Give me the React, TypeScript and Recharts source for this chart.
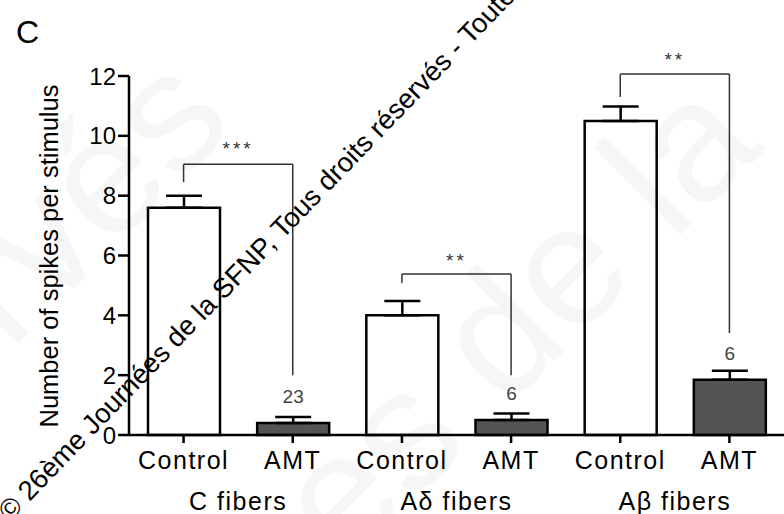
import {
  BarChart,
  Bar,
  XAxis,
  YAxis,
  ErrorBar,
  Cell,
  LabelList,
  ReferenceLine,
  ReferenceDot,
} from "recharts";

const FONT = "'Liberation Sans', Arial, sans-serif";

const groups = ["C fibers", "Aδ fibers", "Aβ fibers"];
const conditions = ["Control", "AMT"];
const means = [7.6, 0.4, 4.0, 0.5, 10.5, 1.85];
const sems = [0.4, 0.2, 0.48, 0.22, 0.48, 0.3];
const counts = [null, 23, null, 6, null, 6];
const yTicks = [0, 2, 4, 6, 8, 10, 12];

// significance brackets (data units): left leg end, top, right leg end, star baseline
const brackets = [
  { group: 0, stars: "***", left: 8.45, top: 9.05, right: 2.0, starY: 9.36 },
  { group: 1, stars: "**", left: 5.08, top: 5.38, right: 2.0, starY: 5.61 },
  { group: 2, stars: "**", left: 11.3, top: 12.07, right: 3.41, starY: 12.33 },
];

const data = means.map((m, i) => ({
  id: groups[Math.floor(i / 2)] + "|" + conditions[i % 2],
  slot: i + 0.5,
  mean: m,
  err: [0, sems[i]],
  n: counts[i],
}));

const groupTicks = groups.map((_, i) => 2 * i + 1);

export default function App() {
  return (
    <div
      style={{
        position: "absolute",
        left: 0,
        top: 0,
        width: 784,
        height: 514,
        background: "#fff",
        fontFamily: FONT,
        overflow: "hidden",
      }}
    >
      <BarChart
        width={784}
        height={514}
        data={data}
        margin={{ top: 76, right: 0, left: 0, bottom: 0 }}
        barSize={72}
      >
        <YAxis
          domain={[0, 12]}
          ticks={yTicks}
          width={129}
          axisLine={{ stroke: "#000", strokeWidth: 2.5 }}
          tickLine={{ stroke: "#000", strokeWidth: 2.5 }}
          tickSize={11}
          tickMargin={2}
          tick={{ fill: "#000", fontSize: 24, fontFamily: FONT }}
          label={() => (
            <text
              x={58}
              y={256}
              transform="rotate(-90 58 256)"
              textAnchor="middle"
              fontSize={25.5}
              fontFamily={FONT}
              fill="#000"
            >
              Number of spikes per stimulus
            </text>
          )}
        />
        <XAxis
          dataKey="id"
          height={40}
          tickFormatter={(v: string) => v.split("|")[1]}
          axisLine={{ stroke: "#000", strokeWidth: 2.5 }}
          tickLine={{ stroke: "#000", strokeWidth: 2.5 }}
          tickSize={8}
          tickMargin={8}
          tick={{ fill: "#000", fontSize: 25, fontFamily: FONT, letterSpacing: 1.5 }}
          interval={0}
        />
        <XAxis
          xAxisId="grp"
          dataKey="slot"
          type="number"
          domain={[0, 6]}
          allowDataOverflow
          ticks={groupTicks}
          tickFormatter={(v: number) => groups[(v - 1) / 2]}
          axisLine={false}
          tickLine={false}
          tickSize={0}
          tickMargin={17}
          height={39}
          tick={{ fill: "#000", fontSize: 25, fontFamily: FONT, letterSpacing: 1.5 }}
        />
        <Bar
          dataKey="mean"
          stroke="#000"
          strokeWidth={2.5}
          isAnimationActive={false}
        >
          {data.map((d, i) => (
            <Cell key={d.id} fill={i % 2 === 0 ? "#ffffff" : "#545454"} />
          ))}
          <ErrorBar
            dataKey="err"
            direction="y"
            width={18}
            stroke="#000"
            strokeWidth={2.5}
            isAnimationActive={false}
          />
          <LabelList
            dataKey="n"
            position="top"
            offset={20}
            fill="#444"
            fontSize={19}
            fontFamily={FONT}
          />
        </Bar>
        {brackets.map((b) => {
          const x1 = 2 * b.group + 0.5;
          const x2 = 2 * b.group + 1.5;
          return [
            <ReferenceLine
              key={b.group + "l"}
              xAxisId="grp"
              ifOverflow="visible"
              segment={[{ x: x1, y: b.left }, { x: x1, y: b.top }]}
              stroke="#333"
              strokeWidth={1.5}
            />,
            <ReferenceLine
              key={b.group + "t"}
              xAxisId="grp"
              ifOverflow="visible"
              segment={[{ x: x1, y: b.top }, { x: x2, y: b.top }]}
              stroke="#333"
              strokeWidth={1.5}
            />,
            <ReferenceLine
              key={b.group + "r"}
              xAxisId="grp"
              ifOverflow="visible"
              segment={[{ x: x2, y: b.top }, { x: x2, y: b.right }]}
              stroke="#333"
              strokeWidth={1.5}
            />,
            <ReferenceDot
              key={b.group + "s"}
              xAxisId="grp"
              x={2 * b.group + 1}
              y={b.starY}
              ifOverflow="visible"
              shape={(p: any) => (
                <text
                  x={p.cx}
                  y={p.cy}
                  textAnchor="middle"
                  fontSize={19}
                  letterSpacing={3}
                  fontFamily={FONT}
                  fill="#333"
                >
                  {b.stars}
                </text>
              )}
            />,
          ];
        })}
      </BarChart>
      <svg
        width={784}
        height={514}
        style={{ position: "absolute", left: 0, top: 0, pointerEvents: "none" }}
      >
        <text
          x={345}
          y={570}
          transform="rotate(-45 345 570)"
          fontSize={170}
          fontFamily={FONT}
          fill="#000"
          fillOpacity={0.035}
        >
          es de la
        </text>
        <text
          x={10}
          y={352}
          transform="rotate(-45 10 352)"
          fontSize={170}
          fontFamily={FONT}
          fill="#000"
          fillOpacity={0.035}
        >
          rvés
        </text>
        <text x={16} y={43} fontSize={32} fontFamily={FONT} fill="#000">
          C
        </text>
        <text
          x={10}
          y={522}
          transform="rotate(-46 10 522)"
          fontSize={27.5}
          fontFamily={FONT}
          fill="#000"
        >
          © 26ème Journées de la SFNP, Tous droits réservés - Toute reproduction
        </text>
      </svg>
    </div>
  );
}
